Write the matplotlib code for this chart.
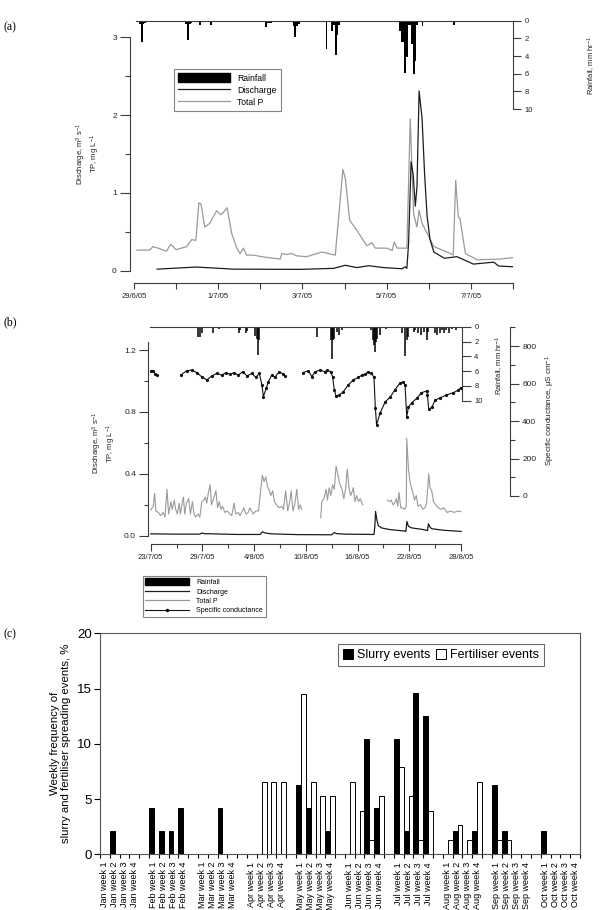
import numpy as np
import matplotlib
matplotlib.use('Agg')
import matplotlib.pyplot as plt
from matplotlib.ticker import MultipleLocator, FixedLocator
from matplotlib.patches import Patch
from matplotlib.lines import Line2D
from datetime import datetime

plt.rcParams['font.family'] = ['Liberation Sans', 'DejaVu Sans']
plt.rcParams['mathtext.fontset'] = 'custom'
plt.rcParams['mathtext.rm'] = 'Liberation Sans'
plt.rcParams['mathtext.it'] = 'Liberation Sans:italic'
plt.rcParams['mathtext.bf'] = 'Liberation Sans:bold'

nan = np.nan
# ---------------- Panel (a) data: time in days since 29/6/05 ----------------
start_a = datetime(2005, 6, 29)
tp_a_t = [0.07, 0.37, 0.45, 0.57, 0.77, 0.87, 1.0, 1.25, 1.37, 1.47, 1.54, 1.59, 1.68, 1.8, 1.96, 2.06, 2.14,
          2.21, 2.32, 2.44, 2.52, 2.6, 2.67, 2.83, 3.15, 3.47, 3.51, 3.63, 3.75, 3.87, 4.1, 4.46, 4.78, 4.96,
          5.02, 5.12, 5.29, 5.53, 5.65, 5.73, 6.0, 6.13, 6.18, 6.25, 6.48, 6.56, 6.64, 6.72, 6.77, 6.84, 7.12,
          7.52, 7.58, 7.64, 7.70, 7.74, 7.87, 8.15, 8.71, 9.02]
tp_a_v = [0.265, 0.265, 0.31, 0.29, 0.25, 0.34, 0.27, 0.31, 0.40, 0.39, 0.87, 0.86, 0.56, 0.61, 0.77, 0.72, 0.76,
          0.81, 0.48, 0.29, 0.22, 0.29, 0.20, 0.20, 0.17, 0.15, 0.22, 0.21, 0.22, 0.19, 0.18, 0.24, 0.20, 1.30,
          1.18, 0.65, 0.52, 0.32, 0.36, 0.29, 0.29, 0.26, 0.37, 0.29, 0.29, 1.95, 0.73, 0.56, 0.78, 0.61, 0.31,
          0.22, 0.20, 1.16, 0.69, 0.67, 0.22, 0.14, 0.15, 0.17]
q_a_t = [0.55, 1.48, 2.36, 3.94, 4.74, 5.02, 5.29, 5.57, 5.93, 6.37, 6.44, 6.48, 6.52, 6.58, 6.63, 6.68, 6.72,
         6.77, 6.84, 6.90, 6.96, 7.03, 7.12, 7.37, 7.67, 8.06, 8.54, 8.66, 9.02]
q_a_v = [0.02, 0.047, 0.02, 0.017, 0.03, 0.07, 0.04, 0.064, 0.04, 0.025, 0.05, 0.03, 0.35, 1.40, 1.23, 0.83, 1.08,
         2.31, 1.96, 1.25, 0.70, 0.40, 0.24, 0.16, 0.18, 0.085, 0.11, 0.06, 0.05]
rain_a_t = [0.14, 0.18, 0.22, 0.26, 0.30, 1.24, 1.28, 1.32, 1.36, 1.57, 1.83, 3.13, 3.17, 3.21, 3.25, 3.79, 3.83,
            3.87, 3.91, 4.49, 4.53, 4.57, 4.61, 4.70, 4.75, 4.79, 4.83, 4.87, 6.24, 6.32, 6.36, 6.40, 6.44, 6.48,
            6.52, 6.56, 6.60, 6.64, 6.68, 6.72, 6.85, 7.06, 7.59]
rain_a_v = [0.4, 2.4, 0.4, 0.3, 0.2, 0.4, 2.2, 0.4, 0.3, 0.5, 0.5, 0.75, 0.3, 0.25, 0.25, 0.6, 1.8, 0.6, 0.4, 0.2,
            0.2, 3.2, 0.2, 1.2, 0.5, 3.9, 1.6, 0.5, 0.2, 1.2, 2.4, 2.4, 5.9, 4.1, 0.5, 0.5, 2.6, 6.0, 4.6, 0.5,
            0.55, 0.2, 0.5]
date_a_labels = ['29/6/05', '1/7/05', '3/7/05', '5/7/05', '7/7/05']
date_a_minor = ['30/6/05', '2/7/05', '4/7/05', '6/7/05', '8/7/05']

# ---------------- Panel (b) data: time in days since 23/7/05 ----------------
start_b = datetime(2005, 7, 23)
tp_b_t = [0.03, 0.3, 0.46, 0.6, 0.9, 1.16, 1.45, 1.66, 1.89, 2.08, 2.35, 2.5, 2.74, 2.9, 3.1, 3.3, 3.45, 3.68,
          3.8, 3.95, 4.14, 4.41, 4.6, 4.84, 5.03, 5.2, 5.5, 5.7, 5.93, 6.16, 6.36, 6.5, 6.7, 6.9, 7.05, 7.3,
          7.57, 7.76, 7.96, 8.15, 8.34, 8.6, 8.9, 9.2, 9.4, 9.67, 9.86, 10.17, 10.36, 10.55, 10.8, 11.05, 11.3,
          11.5, 11.7, 11.9, 12.2, 12.5, 12.77, 12.96, 13.15, 13.35, 13.54, 13.7, 13.96, 14.15, 14.35, 14.6,
          14.9, 15.2, 15.4, 15.66, 15.9, 16.1, 16.3, 16.5, 16.7, 16.95, 17.15, 17.35, 17.5, nan,
          19.72, 19.85, 20.1, 20.35, 20.5, 20.7, 20.9, 21.1, 21.3, 21.5, 21.7, 21.9, 22.2, 22.4, 22.6, 22.8,
          23.0, 23.2, 23.4, 23.5, 23.7, 23.9, 24.1, 24.3, 24.5, 24.6, nan,
          27.45, 27.7, 27.9, 28.1, 28.3, 28.5, 28.65, 28.8, 29.0, 29.2, 29.45, 29.65, 29.7, 29.9, 30.1, 30.4,
          30.6, 30.8, 31.0, 31.3, 31.55, 31.8, 32.0, 32.25, 32.4, 32.6, 32.8, 33.2, 33.6, 34.0, 34.4, 34.8,
          35.2, 35.6, 36.0]
tp_b_v = [0.168, 0.19, 0.275, 0.16, 0.15, 0.13, 0.15, 0.12, 0.30, 0.14, 0.22, 0.17, 0.23, 0.17, 0.14, 0.21, 0.14,
          0.22, 0.25, 0.14, 0.21, 0.24, 0.14, 0.22, 0.14, 0.12, 0.14, 0.12, 0.22, 0.23, 0.25, 0.21, 0.28, 0.33,
          0.20, 0.24, 0.29, 0.18, 0.22, 0.17, 0.19, 0.15, 0.16, 0.14, 0.13, 0.21, 0.14, 0.15, 0.13, 0.15, 0.18,
          0.14, 0.15, 0.18, 0.16, 0.14, 0.16, 0.16, 0.30, 0.39, 0.35, 0.38, 0.32, 0.30, 0.26, 0.29, 0.22, 0.20,
          0.18, 0.19, 0.17, 0.29, 0.16, 0.21, 0.29, 0.16, 0.20, 0.30, 0.17, 0.20, 0.17, nan,
          0.115, 0.22, 0.24, 0.30, 0.23, 0.31, 0.26, 0.33, 0.30, 0.45, 0.40, 0.34, 0.30, 0.24, 0.30, 0.43, 0.31,
          0.26, 0.29, 0.31, 0.22, 0.26, 0.22, 0.24, 0.21, 0.20, nan,
          0.23, 0.22, 0.23, 0.20, 0.21, 0.24, 0.19, 0.28, 0.18, 0.18, 0.17, 0.19, 0.63, 0.43, 0.34, 0.28, 0.23,
          0.26, 0.19, 0.20, 0.17, 0.18, 0.21, 0.40, 0.31, 0.29, 0.22, 0.19, 0.17, 0.18, 0.15, 0.16, 0.15, 0.16,
          0.155]
q_b_t = [0, 3, 5.7, 5.9, 6.3, 10, 12.7, 12.95, 13.3, 14, 17, 21, 21.3, 21.6, 22.5, 25.9, 26.0, 26.08, 26.25,
         26.4, 26.8, 27.7, 29.5, 29.6, 29.72, 29.9, 30.3, 31.6, 32.1, 32.22, 32.4, 32.6, 34, 36]
q_b_v = [0.012, 0.01, 0.01, 0.017, 0.013, 0.008, 0.008, 0.025, 0.017, 0.012, 0.007, 0.006, 0.02, 0.013, 0.01,
         0.008, 0.06, 0.157, 0.10, 0.065, 0.05, 0.04, 0.03, 0.028, 0.092, 0.06, 0.05, 0.04, 0.033, 0.077, 0.055,
         0.045, 0.035, 0.028]
cond_t = [0, 0.3, 0.5, 0.7, nan, 3.48, 4.18, 4.76, 5.34, 5.92, 6.5, 7.08, 7.66, 8.24, 8.74, 9.2, 9.67, 10.17,
          10.67, 11.2, 11.72, 12.2, 12.6, 12.9, 13.07, 13.4, 13.65, 14.04, 14.4, 14.9, 15.4, 15.6, nan,
          17.63, 18.3, 18.7, 19.06, 19.64, 20.2, 20.5, 20.87, 21.1, 21.3, 21.5, 21.87, 22.35, 22.9, 23.5, 24.1,
          24.5, 24.9, 25.2, 25.6, 25.9, 26.06, 26.2, 26.6, 27.2, 27.76, 28.3, 28.9, 29.3, 29.5, 29.7, 29.9,
          30.3, 30.86, 31.4, 32.0, 32.1, 32.25, 32.6, 33.0, 33.6, 34.3, 35.1, 35.7, 35.96]
cond_v = [665, 668, 652, 645, nan, 645, 668, 672, 658, 636, 619, 640, 654, 645, 658, 649, 658, 645, 663, 640,
          654, 633, 654, 592, 530, 574, 610, 645, 633, 663, 650, 640, nan,
          658, 668, 636, 663, 672, 663, 672, 663, 636, 565, 533, 539, 556, 592, 619, 633, 645, 650, 663, 654,
          633, 468, 379, 441, 503, 526, 565, 601, 608, 592, 423, 476, 498, 521, 551, 560, 539, 462, 473, 512,
          524, 539, 551, 565, 578]
rain_b_t = [1.16, 5.52, 5.72, 5.9, 7.2, 7.96, 9.2, 10.3, 10.4, 11.05, 11.2, 12.1, 12.3, 12.5, 12.6, 13.3, 19.33,
            20.88, 21.0, 21.2, 21.3, 21.6, 21.8, 22.2, 23.3, 25.5, 25.75, 25.9, 26.0, 26.1, 26.3, 26.6, 27.3,
            29.2, 29.5, 29.7, 29.9, 30.5, 30.7, 31.0, 31.4, 31.7, 32.0, 32.2, 33.0, 33.2, 33.5, 33.8, 34.0,
            34.3, 34.6, 34.9, 35.4, 35.7]
rain_b_v = [0.2, 1.35, 1.35, 0.9, 0.8, 0.3, 0.1, 0.8, 0.4, 0.8, 0.6, 1.25, 1.6, 3.8, 1.8, 0.2, 1.35, 1.8, 4.4,
            1.8, 1.6, 0.7, 1.1, 0.4, 0.2, 0.45, 1.8, 2.5, 3.4, 2.0, 1.6, 1.1, 0.35, 0.9, 4.0, 1.8, 1.35, 0.7,
            0.45, 0.9, 1.1, 0.7, 1.8, 0.7, 0.8, 1.1, 0.9, 0.45, 0.8, 0.45, 0.8, 0.35, 0.45, 0.2]
date_b_labels = ['23/7/05', '29/7/05', '4/8/05', '10/8/05', '16/8/05', '22/8/05', '28/8/05']
date_b_minor = ['26/7/05', '1/8/05', '7/8/05', '13/8/05', '19/8/05', '25/8/05']

# ---------------- Panel (c) data ----------------
months = ['Jan', 'Feb', 'Mar', 'Apr', 'May', 'Jun', 'Jul', 'Aug', 'Sep', 'Oct']
slurry = {
    'Jan': [0, 2.08, 0, 0], 'Feb': [4.17, 2.08, 2.08, 4.17], 'Mar': [0, 0, 4.17, 0], 'Apr': [0, 0, 0, 0],
    'May': [6.25, 4.17, 0, 2.08], 'Jun': [0, 0, 10.42, 4.17], 'Jul': [10.42, 2.08, 14.58, 12.5],
    'Aug': [0, 2.08, 0, 2.08], 'Sep': [6.25, 2.08, 0, 0], 'Oct': [2.08, 0, 0, 0]}
fertiliser = {
    'Jan': [0, 0, 0, 0], 'Feb': [0, 0, 0, 0], 'Mar': [0, 0, 0, 0], 'Apr': [0, 6.58, 6.58, 6.58],
    'May': [14.47, 6.58, 5.26, 5.26], 'Jun': [6.58, 3.95, 1.32, 5.26], 'Jul': [7.89, 5.26, 1.32, 3.95],
    'Aug': [1.32, 2.63, 1.32, 6.58], 'Sep': [1.32, 1.32, 0, 0], 'Oct': [0, 0, 0, 0]}

W, H = 610, 910
fig = plt.figure(figsize=(W / 100, H / 100), dpi=100)


def rect(x0, y0, x1, y1):
    return [x0 / W, 1 - y1 / H, (x1 - x0) / W, (y1 - y0) / H]


def days(lbls, start):
    return [(datetime.strptime(s, '%d/%m/%y') - start).days for s in lbls]


SP = '#3c3c3c'
TXT = '#222222'
C_Q = '#1c1c1c'
C_TP = '#9a9a9a'

# ======================= Panel (a) =======================
ax_a = fig.add_axes(rect(130, 20.7, 513, 270.7))
ax_a.set_xlim(-0.095, 9.0)
ax_a.set_ylim(0, 3.213)
ax_a.plot(tp_a_t, tp_a_v, color=C_TP, lw=0.9)
ax_a.plot(q_a_t, q_a_v, color=C_Q, lw=0.9)
ax_a.patch.set_visible(False)
for s in ['top', 'right']:
    ax_a.spines[s].set_visible(False)
for s in ['left', 'bottom']:
    ax_a.spines[s].set_color(SP)
    ax_a.spines[s].set_linewidth(0.8)
ax_a.spines['left'].set_bounds(0, 3)
ax_a.spines['bottom'].set_position(('outward', 9))
ax_a.spines['bottom'].set_bounds(0, 9)
ax_a.set_yticks([0, 1, 2, 3])
ax_a.set_yticklabels(['0', '1', '2', '3'])
ax_a.yaxis.set_minor_locator(MultipleLocator(0.5))
ax_a.set_xticks(days(date_a_labels, start_a))
ax_a.set_xticklabels(date_a_labels)
ax_a.xaxis.set_minor_locator(FixedLocator(days(date_a_minor, start_a)))
ax_a.tick_params(axis='y', which='major', length=7.5, width=0.8, color=SP, labelsize=6, pad=2, labelcolor=TXT)
ax_a.tick_params(axis='y', which='minor', length=3.6, width=0.8, color=SP)
ax_a.tick_params(axis='x', which='major', length=4.3, width=0.8, color=SP, labelsize=5.5, pad=2.5, labelcolor=TXT)
ax_a.tick_params(axis='x', which='minor', length=4.3, width=0.8, color=SP)
ax_a.set_ylabel('Discharge, m$^{3}$ s$^{-1}$\nTP, mg L$^{-1}$', fontsize=5.5, color=TXT, linespacing=1.1)
ax_a.yaxis.set_label_coords(-0.073, 0.467)

ax_ar = ax_a.twinx()
ax_ar.set_ylim(28.3, 0)
ax_ar.bar(rain_a_t, rain_a_v, width=0.045, color='black', linewidth=0)
for s in ['left', 'bottom']:
    ax_ar.spines[s].set_visible(False)
for s in ['top', 'right']:
    ax_ar.spines[s].set_color(SP)
    ax_ar.spines[s].set_linewidth(0.8)
ax_ar.spines['right'].set_bounds(0, 10)
ax_ar.spines['top'].set_bounds(0.05, 9)
ax_ar.set_yticks([0, 2, 4, 6, 8, 10])
ax_ar.tick_params(axis='y', length=5.5, width=0.8, color=SP, labelsize=5.5, pad=3, labelcolor=TXT)
ax_ar.set_ylabel('Rainfall, mm hr$^{-1}$', fontsize=5.5, color=TXT)
ax_ar.yaxis.set_label_coords(1.19, 0.823)

leg_a = fig.legend(handles=[Patch(facecolor='black', edgecolor='black'),
                            Line2D([], [], color=C_Q, lw=0.9),
                            Line2D([], [], color=C_TP, lw=0.9)],
                   labels=['Rainfall', 'Discharge', 'Total P'],
                   loc='upper left', bbox_to_anchor=(174 / W, 1 - 69 / H), frameon=True, fancybox=False,
                   edgecolor='#666666', fontsize=6.2, handlelength=6.0, handleheight=1.25, borderpad=0.5,
                   labelspacing=0.3, handletextpad=0.8, borderaxespad=0)
leg_a.get_frame().set_linewidth(0.8)

# ======================= Panel (b) =======================
ax_b = fig.add_axes(rect(148, 326.7, 461.5, 535.7))
ax_b.set_xlim(-0.31, 36.05)
ax_b.set_ylim(0, 1.3506)
ax_b.plot(tp_b_t, tp_b_v, color=C_TP, lw=0.8)
ax_b.plot(q_b_t, q_b_v, color=C_Q, lw=0.9)
ax_b.patch.set_visible(False)
for s in ['top', 'right']:
    ax_b.spines[s].set_visible(False)
for s in ['left', 'bottom']:
    ax_b.spines[s].set_color(SP)
    ax_b.spines[s].set_linewidth(0.8)
ax_b.spines['left'].set_bounds(0, 1.25)
ax_b.spines['bottom'].set_position(('outward', 6))
ax_b.spines['bottom'].set_bounds(0, 36)
ax_b.set_yticks([0, 0.4, 0.8, 1.2])
ax_b.set_yticklabels(['0.0', '0.4', '0.8', '1.2'])
ax_b.yaxis.set_minor_locator(FixedLocator([0.2, 0.6, 1.0]))
ax_b.set_xticks(days(date_b_labels, start_b))
ax_b.set_xticklabels(date_b_labels)
ax_b.xaxis.set_minor_locator(FixedLocator(days(date_b_minor, start_b)))
ax_b.tick_params(axis='y', which='major', length=6.7, width=0.8, color=SP, labelsize=6, pad=2, labelcolor=TXT)
ax_b.tick_params(axis='y', which='minor', length=3.1, width=0.8, color=SP)
ax_b.tick_params(axis='x', which='major', length=4.8, width=0.8, color=SP, labelsize=5.5, pad=2.5, labelcolor=TXT)
ax_b.tick_params(axis='x', which='minor', length=3.1, width=0.8, color=SP)
ax_b.set_ylabel('Discharge, m$^{3}$ s$^{-1}$\nTP, mg L$^{-1}$', fontsize=5.5, color=TXT, linespacing=1.1)
ax_b.yaxis.set_label_coords(-0.096, 0.443)

ax_br = ax_b.twinx()
ax_br.set_ylim(28.24, 0)
ax_br.vlines(rain_b_t, 0, rain_b_v, color='black', lw=1.1)
for s in ['left', 'bottom']:
    ax_br.spines[s].set_visible(False)
for s in ['top', 'right']:
    ax_br.spines[s].set_color(SP)
    ax_br.spines[s].set_linewidth(0.8)
ax_br.spines['right'].set_bounds(0, 10)
ax_br.spines['top'].set_bounds(-0.08, 36.05)
ax_br.set_yticks([0, 2, 4, 6, 8, 10])
ax_br.tick_params(axis='y', length=6.7, width=0.8, color=SP, labelsize=5.5, pad=2.5, labelcolor=TXT)
ax_br.set_ylabel('Rainfall, mm hr$^{-1}$', fontsize=5.5, color=TXT)
ax_br.yaxis.set_label_coords(1.102, 0.817)

ax_bc = ax_b.twinx()
ax_bc.set_ylim(-211.8, 903.2)
ax_bc.plot(cond_t, cond_v, color='#111111', lw=0.8, marker='.', markersize=2.6)
for s in ['left', 'bottom', 'top']:
    ax_bc.spines[s].set_visible(False)
ax_bc.spines['right'].set_position(('axes', 1.154))
ax_bc.spines['right'].set_bounds(0, 900)
ax_bc.spines['right'].set_color(SP)
ax_bc.spines['right'].set_linewidth(0.8)
ax_bc.set_yticks([0, 200, 400, 600, 800])
ax_bc.yaxis.set_minor_locator(FixedLocator([100, 300, 500, 700, 900]))
ax_bc.tick_params(axis='y', which='major', length=6.5, width=0.8, color=SP, labelsize=6, pad=2.5, labelcolor=TXT)
ax_bc.tick_params(axis='y', which='minor', length=3.4, width=0.8, color=SP)
ax_bc.set_ylabel('Specific conductance, \u00b5S cm$^{-1}$', fontsize=5.8, color=TXT)
ax_bc.yaxis.set_label_coords(1.262, 0.60)

leg_b = fig.legend(handles=[Patch(facecolor='black', edgecolor='black'),
                            Line2D([], [], color=C_Q, lw=0.9),
                            Line2D([], [], color=C_TP, lw=0.9),
                            Line2D([], [], color='#111111', lw=0.8, marker='.', markersize=3)],
                   labels=['Rainfall', 'Discharge', 'Total P', 'Specific conductance'],
                   loc='upper left', bbox_to_anchor=(142.7 / W, 1 - 575.7 / H), frameon=True, fancybox=False,
                   edgecolor='#666666', fontsize=5.0, handlelength=6.3, handleheight=1.1, borderpad=0.4,
                   labelspacing=0.25, handletextpad=1.0, borderaxespad=0)
leg_b.get_frame().set_linewidth(0.8)

# ======================= Panel (c) =======================
cats, s_vals, f_vals = [], [], []
for i, m in enumerate(months):
    for w in range(4):
        cats.append(f'{m} week {w + 1}')
        s_vals.append(slurry[m][w])
        f_vals.append(fertiliser[m][w])
    if i < len(months) - 1:
        cats.append('')
        s_vals.append(0)
        f_vals.append(0)
x = np.arange(len(cats))

ax_c = fig.add_axes(rect(100, 633.3, 580, 854.3))
ax_c.bar(x - 0.25, s_vals, width=0.5, color='black', edgecolor='black', linewidth=0.7, label='Slurry events')
ax_c.bar(x + 0.25, f_vals, width=0.5, color='white', edgecolor='black', linewidth=0.7, label='Fertiliser events')
ax_c.set_xlim(-0.5, len(cats) - 0.5)
ax_c.set_ylim(0, 20)
ax_c.set_yticks([0, 5, 10, 15, 20])
ax_c.tick_params(axis='y', length=4, width=0.8, labelsize=9.5, pad=2)
ax_c.set_xticks(x)
ax_c.set_xticklabels(cats, rotation=90, fontsize=6.5, va='top', ha='center')
ax_c.tick_params(axis='x', which='major', length=0, pad=5.5)
ax_c.xaxis.set_minor_locator(FixedLocator(np.arange(-0.5, len(cats), 1.0)))
ax_c.tick_params(axis='x', which='minor', length=3, width=0.8)
for s in ax_c.spines.values():
    s.set_linewidth(0.8)
    s.set_color('#555555')
ax_c.set_ylabel('Weekly frequency of\nslurry and fertiliser spreading events, %', fontsize=8.2, linespacing=1.15)
ax_c.yaxis.set_label_coords(-0.06, 0.5)
leg_c = ax_c.legend(loc='upper left', bbox_to_anchor=((338 - 100) / 480, (854.3 - 644) / 221), ncol=2,
                    frameon=True, fancybox=False, edgecolor='#444444', fontsize=9, handlelength=0.8,
                    handleheight=0.8, handletextpad=0.3, columnspacing=0.5, borderpad=0.4, borderaxespad=0)
leg_c.get_frame().set_linewidth(0.8)

# panel labels
for lbl, yy in [('(a)', 27), ('(b)', 322), ('(c)', 634)]:
    fig.text(10 / W, 1 - yy / H, lbl, family='Liberation Serif', fontsize=8.5, ha='center', va='center')

fig.savefig('out.png', dpi=100)
